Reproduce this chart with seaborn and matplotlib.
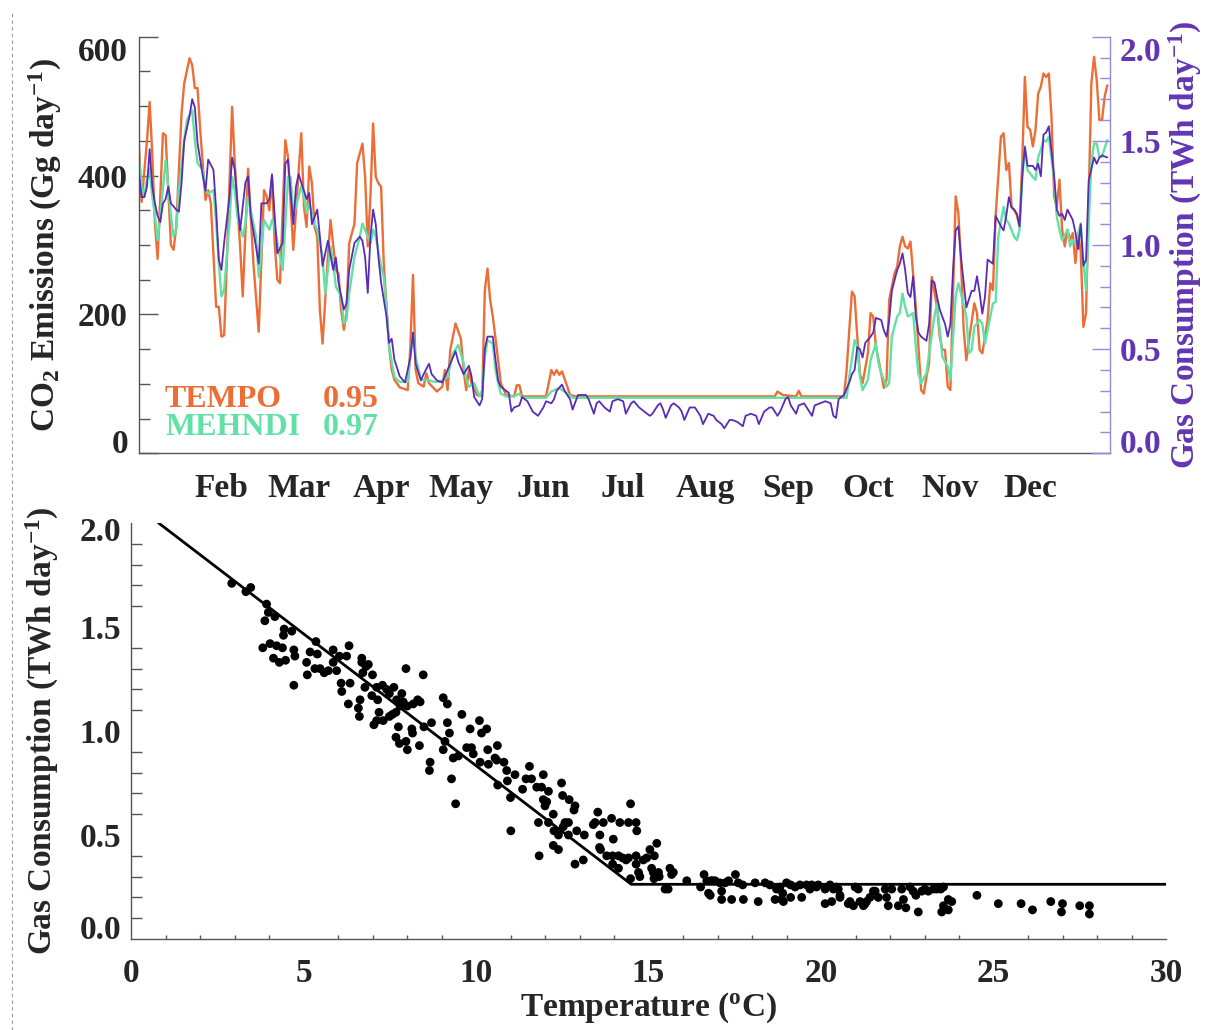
import matplotlib
matplotlib.use("Agg")
import matplotlib.pyplot as plt
from matplotlib.lines import Line2D
from matplotlib.ticker import MultipleLocator, FormatStrFormatter
from matplotlib.transforms import ScaledTranslation
import pandas as pd
import seaborn as sns

# ---------------- daily emissions / consumption (day of year) ----------------
tempo_day = [1, 2, 4, 5, 6, 7, 8, 10, 11, 12, 13, 14, 15, 17, 18, 20, 21, 22, 23, 24,
             26, 27, 28, 30, 31, 32, 33, 34, 36, 37, 39, 40, 42, 43, 44, 46, 48, 49, 50, 51,
             52, 53, 54, 56, 57, 59, 62, 63, 64, 65, 66, 67, 68, 69, 70, 72, 73, 74, 75, 76,
             77, 78, 79, 80, 82, 83, 85, 86, 87, 88, 89, 90, 91, 92, 93, 95, 96, 97, 99, 102,
             103, 104, 105, 106, 108, 109, 110, 113, 115, 116, 117, 118, 120, 122, 123, 124, 125, 126, 128, 130,
             131, 132, 133, 134, 136, 137, 139, 142, 143, 144, 145, 154, 156, 157, 158, 159, 160, 162, 163, 165,
             240, 241, 243, 248, 249, 250, 266, 267, 268, 269, 270, 271, 272, 273, 275, 276, 277, 278, 280, 281,
             282, 283, 285, 286, 287, 288, 289, 290, 291, 293, 294, 295, 296, 297, 298, 299, 301, 302, 303, 304,
             305, 306, 308, 309, 310, 311, 312, 313, 315, 316, 317, 318, 320, 321, 322, 323, 325, 326, 327, 328,
             329, 330, 331, 332, 333, 334, 335, 336, 337, 338, 339, 340, 341, 342, 343, 344, 345, 346, 347, 348,
             349, 350, 351, 352, 353, 354, 355, 356, 357, 358, 359, 360, 361, 362, 363, 364, 365]
tempo_co2 = [442, 362, 450, 506, 430, 330, 280, 461, 458, 380, 300, 293, 326, 490, 533, 569, 559, 526, 526, 466,
             365, 379, 360, 211, 211, 168, 170, 274, 499, 418, 298, 226, 410, 341, 274, 175, 379, 370, 350, 398,
             302, 250, 245, 451, 427, 293, 461, 355, 326, 413, 389, 326, 312, 206, 158, 283, 336, 300, 264, 259,
             206, 178, 202, 302, 331, 418, 446, 398, 298, 370, 475, 398, 389, 384, 274, 154, 120, 106, 95, 91,
             154, 257, 120, 101, 96, 115, 101, 89, 96, 120, 91, 149, 187, 165, 120, 91, 120, 101, 84, 82,
             235, 266, 221, 197, 134, 101, 84, 82, 98, 98, 82, 82, 120, 113, 120, 113, 118, 96, 84, 82,
             82, 89, 84, 82, 90, 82, 82, 120, 178, 233, 226, 168, 115, 101, 144, 202, 197, 154, 115, 94,
             106, 221, 259, 269, 298, 312, 298, 295, 305, 211, 154, 91, 86, 110, 130, 254, 211, 168, 149, 149,
             96, 91, 370, 346, 274, 178, 134, 163, 216, 202, 149, 144, 192, 245, 235, 341, 456, 461, 408, 418,
             355, 350, 343, 326, 418, 542, 470, 466, 442, 466, 518, 528, 547, 542, 547, 485, 370, 355, 394, 322,
             298, 322, 307, 317, 274, 317, 290, 182, 202, 370, 533, 571, 538, 480, 480, 514, 530]

mehndi_day = [1, 2, 3, 4, 5, 6, 7, 8, 9, 11, 12, 13, 14, 15, 16, 18, 19, 21, 22, 23,
              25, 26, 27, 29, 30, 31, 32, 33, 35, 36, 37, 38, 40, 41, 42, 43, 45, 46, 47, 48,
              50, 51, 52, 54, 55, 57, 58, 59, 61, 62, 63, 64, 65, 67, 68, 70, 71, 72, 73, 74,
              75, 77, 78, 79, 80, 82, 84, 85, 87, 88, 89, 90, 92, 93, 94, 95, 97, 99, 102, 103,
              104, 105, 107, 109, 112, 114, 117, 119, 121, 123, 124, 125, 127, 129, 130, 131, 132, 134, 135, 136,
              137, 139, 142, 144, 145, 154, 156, 159, 162, 164, 267, 268, 270, 271, 272, 273, 275, 276, 278, 279,
              280, 282, 283, 284, 286, 287, 288, 289, 290, 292, 293, 294, 295, 297, 298, 300, 301, 302, 303, 305,
              306, 308, 309, 310, 312, 313, 314, 315, 317, 318, 319, 320, 322, 323, 324, 326, 327, 328, 330, 331,
              332, 333, 334, 335, 337, 338, 339, 340, 341, 342, 343, 345, 346, 347, 348, 350, 351, 352, 353, 355,
              356, 357, 358, 359, 360, 361, 362, 363, 364, 365]
mehndi_co2 = [425, 384, 370, 395, 410, 370, 341, 307, 341, 422, 384, 341, 312, 322, 379, 451, 480, 494, 451, 418,
              408, 379, 374, 379, 331, 274, 226, 235, 331, 398, 379, 341, 312, 331, 370, 350, 312, 254, 293, 336,
              322, 336, 326, 283, 264, 398, 398, 341, 370, 385, 370, 346, 360, 331, 322, 283, 230, 264, 298, 274,
              240, 226, 187, 192, 230, 283, 312, 331, 312, 302, 322, 312, 269, 254, 211, 154, 110, 103, 103, 139,
              173, 139, 106, 106, 103, 103, 110, 144, 156, 130, 106, 96, 101, 82, 91, 139, 163, 158, 120, 101,
              86, 82, 82, 86, 80, 80, 89, 94, 86, 80, 80, 110, 163, 154, 110, 91, 106, 134, 158, 130,
              115, 96, 101, 168, 197, 202, 230, 211, 197, 202, 154, 115, 101, 115, 144, 197, 216, 178, 139, 125,
              106, 226, 245, 230, 197, 144, 149, 182, 192, 187, 158, 178, 216, 218, 312, 355, 336, 331, 312, 307,
              322, 394, 442, 408, 398, 394, 427, 437, 451, 449, 456, 394, 341, 322, 307, 322, 298, 307, 302, 331,
              274, 235, 330, 420, 446, 446, 427, 427, 440, 451]

gas_day = [1, 2, 3, 4, 5, 6, 7, 8, 9, 10, 11, 12, 13, 15, 16, 17, 18, 20, 21, 22,
           23, 25, 26, 27, 29, 30, 31, 32, 33, 35, 36, 37, 38, 39, 41, 42, 43, 45, 46, 47,
           49, 50, 51, 52, 53, 55, 56, 57, 59, 60, 61, 63, 64, 65, 66, 68, 69, 70, 72, 74,
           75, 76, 78, 79, 80, 82, 84, 85, 86, 87, 88, 89, 90, 91, 92, 94, 95, 96, 97, 99,
           101, 103, 104, 105, 107, 108, 110, 111, 113, 115, 116, 118, 120, 121, 123, 125, 126, 127, 129, 130,
           131, 132, 134, 135, 136, 137, 139, 140, 141, 142, 144, 145, 146, 147, 149, 151, 153, 154, 156, 157,
           158, 160, 161, 163, 164, 166, 167, 169, 170, 172, 173, 174, 176, 178, 179, 181, 183, 184, 186, 187,
           189, 191, 193, 194, 196, 197, 198, 199, 201, 202, 204, 205, 206, 208, 210, 212, 213, 215, 217, 218,
           220, 221, 223, 224, 226, 228, 229, 231, 233, 234, 236, 238, 239, 241, 242, 244, 245, 246, 248, 249,
           251, 253, 254, 255, 257, 259, 261, 262, 263, 264, 265, 266, 268, 269, 270, 271, 272, 273, 274, 276,
           277, 278, 280, 281, 282, 283, 284, 286, 287, 288, 289, 290, 291, 292, 293, 294, 295, 297, 298, 299,
           300, 301, 302, 304, 305, 306, 307, 308, 309, 310, 311, 312, 314, 315, 316, 317, 318, 319, 320, 322,
           323, 325, 326, 327, 328, 329, 330, 331, 332, 333, 334, 335, 337, 338, 339, 340, 341, 342, 343, 345,
           346, 347, 348, 349, 350, 352, 353, 354, 355, 356, 357, 358, 360, 361, 362, 363, 365]
gas_twh = [1.34, 1.23, 1.23, 1.28, 1.46, 1.28, 1.20, 1.14, 1.11, 1.20, 1.22, 1.28, 1.20, 1.17, 1.16, 1.30, 1.50, 1.62, 1.70, 1.66,
           1.49, 1.33, 1.26, 1.41, 1.36, 1.17, 0.93, 0.88, 1.01, 1.23, 1.42, 1.36, 1.20, 1.07, 1.30, 1.33, 1.14, 0.99, 0.91, 1.20,
           1.20, 1.22, 1.34, 1.14, 0.96, 1.01, 1.39, 1.41, 1.10, 1.28, 1.34, 1.26, 1.22, 1.25, 1.10, 1.17, 1.04, 0.90, 1.02, 0.88,
           0.94, 0.82, 0.69, 0.72, 0.88, 1.01, 1.04, 1.02, 0.94, 0.77, 1.04, 1.17, 1.10, 0.94, 0.82, 0.66, 0.53, 0.55, 0.45, 0.37,
           0.34, 0.46, 0.58, 0.43, 0.35, 0.38, 0.43, 0.38, 0.35, 0.34, 0.37, 0.43, 0.49, 0.44, 0.38, 0.42, 0.37, 0.27, 0.23, 0.26,
           0.50, 0.56, 0.56, 0.45, 0.35, 0.32, 0.30, 0.29, 0.20, 0.22, 0.23, 0.27, 0.26, 0.25, 0.20, 0.18, 0.22, 0.25, 0.24, 0.26,
           0.30, 0.33, 0.30, 0.26, 0.21, 0.28, 0.28, 0.28, 0.26, 0.19, 0.24, 0.25, 0.22, 0.20, 0.25, 0.26, 0.25, 0.19, 0.24, 0.25,
           0.22, 0.20, 0.18, 0.19, 0.23, 0.24, 0.21, 0.17, 0.23, 0.24, 0.22, 0.20, 0.16, 0.22, 0.22, 0.18, 0.14, 0.19, 0.18, 0.16,
           0.14, 0.12, 0.16, 0.16, 0.15, 0.13, 0.18, 0.19, 0.18, 0.14, 0.20, 0.22, 0.22, 0.18, 0.20, 0.26, 0.27, 0.23, 0.19, 0.23,
           0.24, 0.20, 0.18, 0.23, 0.24, 0.25, 0.24, 0.18, 0.17, 0.26, 0.27, 0.28, 0.34, 0.38, 0.40, 0.51, 0.50, 0.46, 0.53, 0.56,
           0.58, 0.65, 0.64, 0.59, 0.56, 0.64, 0.78, 0.88, 0.91, 0.96, 0.88, 0.77, 0.75, 0.85, 0.66, 0.58, 0.56, 0.54, 0.62, 0.83,
           0.82, 0.75, 0.69, 0.62, 0.56, 0.62, 0.88, 1.07, 1.09, 0.94, 0.82, 0.70, 0.78, 0.78, 0.85, 0.77, 0.67, 0.75, 0.93, 0.91,
           1.14, 1.09, 1.07, 1.14, 1.23, 1.18, 1.17, 1.15, 1.09, 1.33, 1.47, 1.38, 1.38, 1.36, 1.39, 1.33, 1.53, 1.54, 1.57, 1.33,
           1.17, 1.14, 1.15, 1.12, 1.17, 1.12, 1.06, 0.98, 1.10, 0.90, 0.93, 1.31, 1.42, 1.39, 1.42, 1.43, 1.42]

month_start_day = [32, 61, 92, 122, 153, 183, 214, 245, 275, 306, 336]
month_labels = ["Feb", "Mar", "Apr", "May", "Jun", "Jul", "Aug", "Sep", "Oct", "Nov", "Dec"]

inventory_names = ["TEMPO", "MEHNDI"]
inventory_r = [0.95, 0.97]

# ---------------- daily gas consumption vs. temperature ----------------
temperature_c = [
    2.92, 3.33, 3.47, 3.93, 3.98, 4.17, 3.88, 4.44, 4.66, 4.42, 3.82, 4.03, 4.22, 4.39, 4.13, 4.30, 4.48, 4.72, 4.75, 4.72,
    5.09, 5.11, 5.19, 5.36, 5.40, 5.33, 5.48, 5.60, 5.72, 5.86, 5.86, 5.96, 6.04, 6.09, 6.11, 6.25, 6.32, 6.35, 6.30, 6.59,
    6.62, 6.64, 6.69, 6.69, 6.72, 6.78, 6.88, 6.81, 6.98, 7.00, 7.15, 7.12, 7.29, 7.41, 7.49, 7.19, 7.12, 7.04, 7.31, 7.49,
    7.58, 7.68, 7.62, 7.70, 7.85, 7.89, 7.97, 7.80, 8.01, 7.75, 7.68, 7.78, 7.97, 8.01, 8.14, 8.16, 8.18, 8.31, 8.38, 8.47,
    8.36, 8.49, 8.71, 8.67, 8.65, 9.05, 9.17, 9.17, 9.23, 9.10, 9.05, 9.29, 9.41, 9.34, 9.49, 9.59, 9.73, 9.83, 9.87, 9.92,
    10.10, 10.12, 10.16, 10.31, 10.34, 10.36, 10.55, 10.60, 10.62, 10.63, 10.89, 10.91, 11.00, 11.01, 11.13, 10.81,
    11.35, 11.45, 11.55, 11.61, 11.76, 11.90, 11.95, 12.10, 11.95, 12.00, 12.05, 11.81, 11.83, 12.10, 12.24, 12.24, 12.26, 12.39,
    12.39, 12.48, 12.51, 12.53, 12.58, 12.68, 12.70, 12.68, 12.84, 12.87, 12.92, 12.87, 13.11, 13.14, 13.40, 13.45, 13.53, 13.59,
    13.58, 13.61, 13.69, 13.79, 13.93, 13.96, 13.98, 13.96, 14.13, 14.13, 14.17, 14.25, 14.35, 14.42, 14.48, 14.42, 14.48, 14.64,
    14.66, 14.64, 14.64, 14.71, 14.75, 14.85, 14.95, 15.04, 15.09, 15.14, 15.17, 15.24, 15.16, 15.29, 15.31, 15.48, 15.57, 15.62,
    15.67, 15.72, 16.11, 16.51, 16.61, 16.69, 16.74, 16.79, 16.81, 16.86, 16.93, 17.07, 17.12, 17.12, 17.22, 17.32, 17.41, 17.52,
    17.60, 17.73, 17.75, 18.09, 18.18, 18.38, 18.52, 18.67, 18.71, 18.81, 18.86, 18.89, 18.91, 19.00, 19.12, 19.12, 19.25, 19.39,
    19.44, 19.58, 19.68, 19.73, 19.87, 19.92, 20.12, 20.12, 20.26, 20.31, 20.36, 20.45, 20.50, 20.55, 20.55, 20.79, 20.84, 20.94,
    20.99, 21.08, 21.13, 21.23, 21.28, 21.32, 21.42, 21.52, 21.57, 21.66, 21.86, 21.90, 21.95, 22.05, 22.24, 22.34, 22.39, 22.46,
    22.58, 22.67, 22.75, 22.82, 22.92, 23.01, 23.11, 23.26, 23.35, 23.47, 23.50, 23.55, 23.55, 23.69, 23.69, 23.79, 24.52, 25.14,
    25.80, 26.13, 26.66, 27.00, 26.97, 27.50, 27.78, 27.78]
gas_consumption = [
    1.71, 1.67, 1.69, 1.61, 1.57, 1.55, 1.53, 1.49, 1.48, 1.46, 1.40, 1.42, 1.41, 1.40, 1.35, 1.33, 1.34, 1.39, 1.36, 1.22,
    1.33, 1.27, 1.38, 1.43, 1.37, 1.30, 1.30, 1.28, 1.29, 1.39, 1.33, 1.29, 1.36, 1.23, 1.19, 1.36, 1.41, 1.23, 1.13, 1.11,
    1.07, 1.15, 1.35, 1.33, 1.28, 1.21, 1.32, 1.31, 1.17, 1.27, 1.15, 1.21, 1.22, 1.20, 1.18, 1.09, 1.05, 1.03, 1.05, 1.07,
    1.08, 1.09, 1.21, 1.15, 1.18, 1.14, 1.30, 1.12, 1.12, 1.02, 0.97, 0.94, 0.95, 0.91, 1.01, 0.99, 1.13, 1.15, 1.14, 1.27,
    0.93, 1.02, 1.04, 0.85, 0.81, 1.16, 1.13, 1.04, 0.99, 0.95, 0.91, 0.77, 0.65, 0.87, 0.88, 1.08, 0.92, 1.01, 0.92, 0.89,
    1.05, 0.85, 0.99, 1.01, 0.91, 0.84, 0.87, 0.86, 0.93, 0.74, 0.81, 0.76, 0.68, 0.52, 0.79, 0.85,
    0.72, 0.77, 0.83, 0.77, 0.73, 0.73, 0.79, 0.71, 0.67, 0.64, 0.66, 0.56, 0.40, 0.56, 0.60, 0.45, 0.52, 0.50,
    0.43, 0.75, 0.69, 0.54, 0.56, 0.56, 0.67, 0.50, 0.62, 0.64, 0.52, 0.36, 0.38, 0.50, 0.55, 0.56, 0.61, 0.50,
    0.44, 0.43, 0.56, 0.40, 0.58, 0.40, 0.48, 0.36, 0.34, 0.40, 0.56, 0.39, 0.38, 0.56, 0.65, 0.39, 0.29, 0.56,
    0.52, 0.40, 0.36, 0.32, 0.30, 0.38, 0.39, 0.43, 0.34, 0.32, 0.40, 0.46, 0.29, 0.32, 0.30, 0.24, 0.24, 0.34,
    0.31, 0.32, 0.28, 0.25, 0.31, 0.28, 0.22, 0.21, 0.28, 0.28, 0.28, 0.27, 0.23, 0.19, 0.27, 0.28, 0.19, 0.31,
    0.27, 0.26, 0.19, 0.27, 0.18, 0.27, 0.26, 0.19, 0.24, 0.25, 0.19, 0.22, 0.18, 0.27, 0.26, 0.20, 0.25, 0.26,
    0.20, 0.26, 0.24, 0.26, 0.25, 0.26, 0.24, 0.17, 0.26, 0.18, 0.24, 0.25, 0.24, 0.21, 0.20, 0.17, 0.18, 0.16,
    0.25, 0.24, 0.18, 0.16, 0.17, 0.18, 0.20, 0.23, 0.23, 0.20, 0.24, 0.20, 0.16, 0.24, 0.16, 0.24, 0.19, 0.15,
    0.25, 0.23, 0.21, 0.13, 0.23, 0.24, 0.23, 0.24, 0.24, 0.24, 0.13, 0.25, 0.16, 0.14, 0.19, 0.18, 0.21, 0.17,
    0.17, 0.14, 0.18, 0.17, 0.13, 0.16, 0.16, 0.12]

# piecewise-linear fit: heating slope down to the base-load level
fit_temp = [0.8, 14.5, 30.0]
fit_gas = [2.0, 0.263, 0.263]

# ---------------- styling ----------------
ORANGE = "#EC6E36"
GREEN = "#62E0A6"
PURPLE_LINE = "#5A2CB6"
PURPLE_TEXT = "#6236B2"
PURPLE_AXIS = "#9B87D8"
GREY = "#555555"
FS = 24

sns.set_theme(style="white")
plt.rcParams["font.family"] = ["Liberation Serif", "DejaVu Serif"]
plt.rcParams["font.weight"] = "bold"
plt.rcParams["mathtext.default"] = "regular"

W, H = 1206, 1030
fig = plt.figure(figsize=(W / 100, H / 100), dpi=100)
fig.patch.set_facecolor("white")

ax1 = fig.add_axes([139 / W, 1 - 453.3 / H, 971 / W, 416.6 / H])
ax2 = ax1.twinx()
ax3 = fig.add_axes([131 / W, 1 - 939 / H, 1035 / W, 416 / H])

PER_DAY = r"day$^{-1}$"

# ---------------- top panel: time series ----------------
tempo = pd.DataFrame({"day": tempo_day, "co2": tempo_co2})
mehndi = pd.DataFrame({"day": mehndi_day, "co2": mehndi_co2})
gas = pd.DataFrame({"day": gas_day, "twh": gas_twh})

sns.lineplot(data=tempo, x="day", y="co2", ax=ax1, color=ORANGE, linewidth=1.7,
             estimator=None, sort=False)
sns.lineplot(data=mehndi, x="day", y="co2", ax=ax1, color=GREEN, linewidth=1.7,
             estimator=None, sort=False)
sns.lineplot(data=gas, x="day", y="twh", ax=ax2, color=PURPLE_LINE, linewidth=1.3,
             estimator=None, sort=False)

ax1.set_xlim(1, 366)
ax1.set_ylim(0, 600)
ax2.set_ylim(0, 2.0)

ax1.set_xticks(month_start_day, month_labels)
ax1.set_yticks([0, 200, 400, 600])
ax1.yaxis.set_minor_locator(MultipleLocator(50))
ax1.tick_params(axis="x", which="major", direction="in", length=6, width=1,
                color=GREY, labelsize=FS, pad=14, top=False)
ax1.tick_params(axis="y", which="major", direction="in", length=14, width=1,
                color=GREY, labelsize=FS, pad=8, right=False)
ax1.tick_params(axis="y", which="minor", direction="in", length=8, width=1,
                color=GREY, left=True, right=False)

ax2.set_yticks([0.0, 0.5, 1.0, 1.5, 2.0])
ax2.yaxis.set_major_formatter(FormatStrFormatter("%.1f"))
ax2.yaxis.set_minor_locator(MultipleLocator(0.1))
ax2.tick_params(axis="y", which="major", direction="in", length=13, width=1,
                color=PURPLE_AXIS, labelcolor=PURPLE_TEXT, labelsize=FS, pad=7)
ax2.tick_params(axis="y", which="minor", direction="in", length=7, width=1,
                color=PURPLE_AXIS, right=True)

for side in ["top", "right"]:
    ax1.spines[side].set_visible(False)
for side in ["left", "bottom"]:
    ax1.spines[side].set_color(GREY)
    ax1.spines[side].set_linewidth(1.0)
for side in ["top", "left", "bottom"]:
    ax2.spines[side].set_visible(False)
ax2.spines["right"].set_color(PURPLE_AXIS)
ax2.spines["right"].set_linewidth(1.0)

ax1.set_xlabel("")
ax1.set_ylabel("CO$_2$ Emissions (Gg " + PER_DAY + ")", fontsize=FS, fontweight="bold")
ax1.yaxis.set_label_coords(-0.096, 0.5)
ax1.yaxis.label.set_verticalalignment("center")
ax2.set_ylabel("Gas Consumption (TWh " + PER_DAY + ")", fontsize=FS, fontweight="bold",
               color=PURPLE_TEXT, rotation=90)
ax2.yaxis.set_label_coords(1.078, 0.5)
ax2.yaxis.label.set_verticalalignment("center")

# correlation annotations
for name, r, col, yb in zip(inventory_names, inventory_r, [ORANGE, GREEN], [0.110, 0.044]):
    ax1.text(0.0268, yb, name, color=col, fontsize=23, fontweight="bold",
             va="baseline", ha="left", transform=ax1.transAxes)
    ax1.text(0.1895, yb, f"{r:.2f}", color=col, fontsize=23, fontweight="bold",
             va="baseline", ha="left", transform=ax1.transAxes)

# ---------------- bottom panel: gas vs temperature ----------------
sns.scatterplot(x=temperature_c, y=gas_consumption, ax=ax3, color="black",
                s=40, linewidth=0, edgecolor="none", zorder=3)
sns.lineplot(x=fit_temp, y=fit_gas, ax=ax3, color="black", linewidth=2.0,
             estimator=None, sort=False, zorder=2)

ax3.set_xlim(0, 30)
ax3.set_ylim(0, 2.0)
ax3.set_xticks([0, 5, 10, 15, 20, 25, 30])
ax3.xaxis.set_minor_locator(MultipleLocator(1))
ax3.set_yticks([0.0, 0.5, 1.0, 1.5, 2.0])
ax3.yaxis.set_major_formatter(FormatStrFormatter("%.1f"))
ax3.yaxis.set_minor_locator(MultipleLocator(0.1))
ax3.tick_params(axis="x", which="major", direction="in", length=6, width=1,
                color=GREY, labelsize=FS, pad=14, top=False)
ax3.tick_params(axis="x", which="minor", direction="in", length=3, width=1,
                color=GREY, bottom=True, top=False)
ax3.tick_params(axis="y", which="major", direction="in", length=15, width=1,
                color=GREY, labelsize=FS, pad=7, right=False)
ax3.tick_params(axis="y", which="minor", direction="in", length=8, width=1,
                color=GREY, left=True, right=False)
for side in ["top", "right"]:
    ax3.spines[side].set_visible(False)
for side in ["left", "bottom"]:
    ax3.spines[side].set_color(GREY)
    ax3.spines[side].set_linewidth(1.0)

ax3.set_xlabel("Temperature ($^{o}$C)", fontsize=FS, fontweight="bold")
ax3.xaxis.set_label_coords(0.5, -0.123)
ax3.set_ylabel("Gas Consumption (TWh " + PER_DAY + ")", fontsize=FS, fontweight="bold")
ax3.yaxis.set_label_coords(-0.086, 0.5)
ax3.yaxis.label.set_verticalalignment("center")

# end labels sit inside the axis range
for axis in [ax1.yaxis, ax2.yaxis, ax3.yaxis]:
    labels = axis.get_majorticklabels()
    labels[0].set_verticalalignment("baseline")
    labels[-1].set_verticalalignment("top")
top_lab = ax3.yaxis.get_majorticklabels()[-1]
top_lab.set_transform(top_lab.get_transform() + ScaledTranslation(0, 6 / 100, fig.dpi_scale_trans))

# page margin guide
fig.add_artist(Line2D([12 / W, 12 / W], [0, 1 - 12 / H], transform=fig.transFigure,
                      color="#9a9a9a", linewidth=0.8, linestyle=(0, (3, 3))))

fig.savefig("out.png", dpi=100, facecolor="white")
